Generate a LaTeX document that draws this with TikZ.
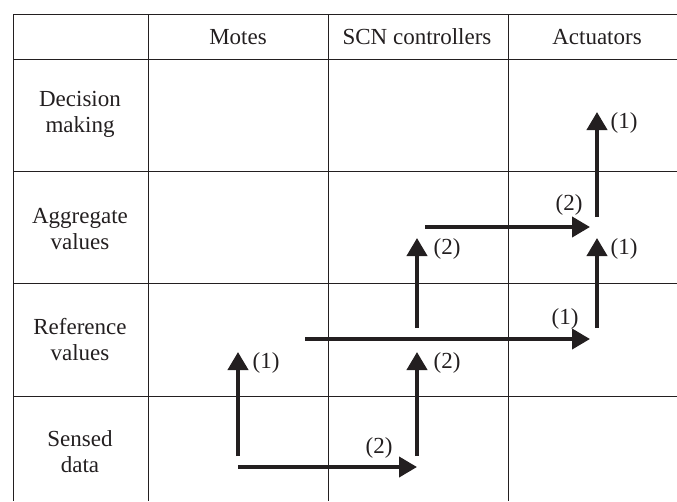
\documentclass[tikz,border=0pt]{standalone}
\usepackage{fontspec}
\setmainfont{Liberation Serif}
\usetikzlibrary{arrows.meta}
\definecolor{ink}{HTML}{231F20}

\begin{document}
\begin{tikzpicture}[x=1pt,y=-1pt,
  rule/.style={draw=ink,line width=0.9pt},
  flow/.style={draw=ink,line width=4pt,-{Triangle[length=18pt,width=20pt]}},
  head/.style={text=ink,font=\fontsize{23}{26}\selectfont},
  rowname/.style={text=ink,font=\fontsize{23}{26}\selectfont,align=center},
  num/.style={text=ink,font=\fontsize{23}{26}\selectfont,inner sep=0pt}]
\useasboundingbox (0,0) rectangle (677,501);
\begin{scope}
  \draw[rule] (13,14) -- (677,14);
  \draw[rule] (13,59) -- (677,59);
  \draw[rule] (13,171) -- (677,171);
  \draw[rule] (13,283) -- (677,283);
  \draw[rule] (13,396) -- (677,396);
  \draw[rule] (13,14) -- (13,501);
  \draw[rule] (148,14) -- (148,501);
  \draw[rule] (328,14) -- (328,501);
  \draw[rule] (508,14) -- (508,501);
\end{scope}
\node[head] (motes) at (238,37) {Motes};
\node[head] (scn) at (417,37) {SCN controllers};
\node[head] (act) at (597,37) {Actuators};
\node[rowname] (decision) at (80,114) {Decision\\making};
\node[rowname] (aggregate) at (80,229) {Aggregate\\values};
\node[rowname] (reference) at (80,340) {Reference\\values};
\node[rowname] (sensed) at (80,452) {Sensed\\data};
\begin{scope}
  \coordinate (ms) at (238,456);
  \coordinate (mr) at (238,352);
  \coordinate (ss) at (238,467);
  \coordinate (se) at (417,467);
  \coordinate (cs) at (417,456);
  \coordinate (cr) at (417,352);
  \coordinate (rs) at (305,339);
  \coordinate (re) at (590,339);
  \coordinate (cb) at (417,328);
  \coordinate (ca) at (417,238);
  \coordinate (ab) at (597,328);
  \coordinate (aa) at (597,238);
  \coordinate (gs) at (425,227);
  \coordinate (ge) at (590,227);
  \coordinate (db) at (597,217);
  \coordinate (dt) at (597,112);
  \draw[flow] (ms) -- (mr);
  \draw[flow] (ss) -- (se);
  \draw[flow] (cs) -- (cr);
  \draw[flow] (rs) -- (re);
  \draw[flow] (cb) -- (ca);
  \draw[flow] (ab) -- (aa);
  \draw[flow] (gs) -- (ge);
  \draw[flow] (db) -- (dt);
\end{scope}
\node[num] (n1) at (266,363) {(1)};
\node[num] (n2) at (379,448) {(2)};
\node[num] (n3) at (447,363) {(2)};
\node[num] (n4) at (565,319) {(1)};
\node[num] (n5) at (447,249) {(2)};
\node[num] (n6) at (624,249) {(1)};
\node[num] (n7) at (569,205) {(2)};
\node[num] (n8) at (624,123) {(1)};
\end{tikzpicture}
\end{document}
